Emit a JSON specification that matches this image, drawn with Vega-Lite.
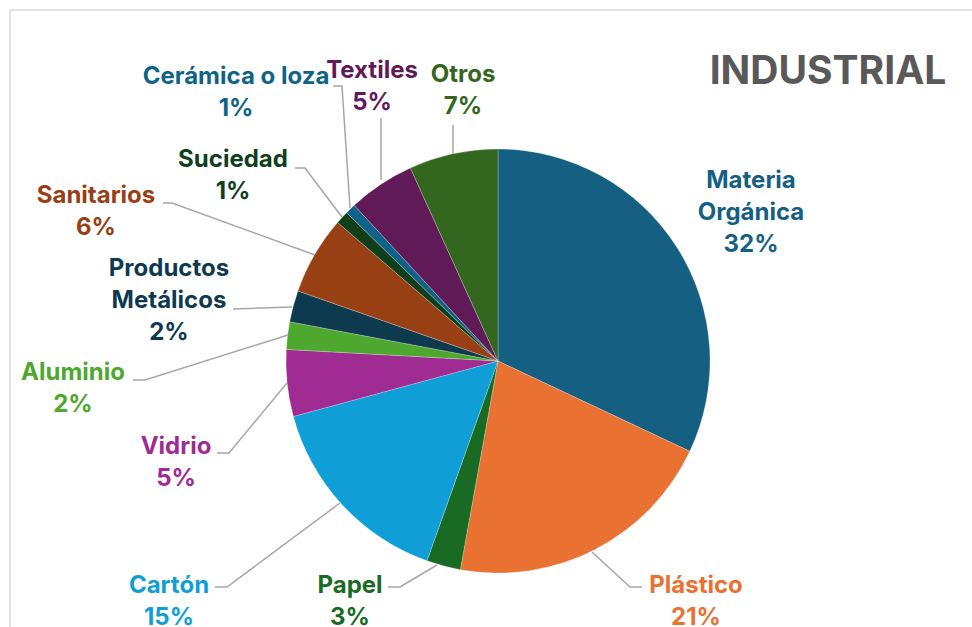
{
  "$schema": "https://vega.github.io/schema/vega-lite/v6.json",
  "width": 970,
  "height": 625,
  "autosize": {"type": "none"},
  "padding": {"left": 10, "top": 10, "right": 0, "bottom": 0},
  "background": "white",
  "config": {"view": {"stroke": "#d9d9d9", "strokeWidth": 1.5}},
  "datasets": {
    "slices": [
      {"idx": 1, "name": "Materia Orgánica", "lab": "Materia|Orgánica", "v": 32.1, "lx": 253, "ly": 180},
      {"idx": 2, "name": "Plástico", "lab": "Plástico", "v": 20.9, "lx": 198, "ly": -225},
      {"idx": 3, "name": "Papel", "lab": "Papel", "v": 2.6, "lx": -148, "ly": -225},
      {"idx": 4, "name": "Cartón", "lab": "Cartón", "v": 15.4, "lx": -329, "ly": -225},
      {"idx": 5, "name": "Vidrio", "lab": "Vidrio", "v": 5.1, "lx": -322, "ly": -86},
      {"idx": 6, "name": "Aluminio", "lab": "Aluminio", "v": 2.1, "lx": -425, "ly": -12},
      {"idx": 7, "name": "Productos Metálicos", "lab": "Productos|Metálicos", "v": 2.4, "lx": -329, "ly": 92},
      {"idx": 8, "name": "Sanitarios", "lab": "Sanitarios", "v": 6.0, "lx": -402, "ly": 165},
      {"idx": 9, "name": "Suciedad", "lab": "Suciedad", "v": 1.0, "lx": -265, "ly": 201},
      {"idx": 10, "name": "Cerámica o loza", "lab": "Cerámica o loza", "v": 0.8, "lx": -262, "ly": 284},
      {"idx": 11, "name": "Textiles", "lab": "Textiles", "v": 5.1, "lx": -126, "ly": 290},
      {"idx": 12, "name": "Otros", "lab": "Otros", "v": 6.8, "lx": -35, "ly": 286}
    ],
    "leaders": [
      {"name": "Plástico", "s": 1, "x": 94, "y": -191},
      {"name": "Plástico", "s": 2, "x": 132, "y": -226},
      {"name": "Plástico", "s": 3, "x": 144, "y": -226},
      {"name": "Papel", "s": 1, "x": -61, "y": -204},
      {"name": "Papel", "s": 2, "x": -98, "y": -226},
      {"name": "Papel", "s": 3, "x": -110, "y": -226},
      {"name": "Cartón", "s": 1, "x": -158, "y": -142},
      {"name": "Cartón", "s": 2, "x": -271, "y": -226},
      {"name": "Cartón", "s": 3, "x": -283, "y": -226},
      {"name": "Vidrio", "s": 1, "x": -211, "y": -22},
      {"name": "Vidrio", "s": 2, "x": -269, "y": -92},
      {"name": "Vidrio", "s": 3, "x": -281, "y": -92},
      {"name": "Aluminio", "s": 1, "x": -210, "y": 26},
      {"name": "Aluminio", "s": 2, "x": -353, "y": -19},
      {"name": "Aluminio", "s": 3, "x": -365, "y": -19},
      {"name": "Productos Metálicos", "s": 1, "x": -206, "y": 54},
      {"name": "Productos Metálicos", "s": 2, "x": -265, "y": 52},
      {"name": "Sanitarios", "s": 1, "x": -183, "y": 106},
      {"name": "Sanitarios", "s": 2, "x": -326, "y": 158},
      {"name": "Sanitarios", "s": 3, "x": -335, "y": 158},
      {"name": "Suciedad", "s": 1, "x": -156, "y": 144},
      {"name": "Suciedad", "s": 2, "x": -193, "y": 193},
      {"name": "Suciedad", "s": 3, "x": -203, "y": 193},
      {"name": "Cerámica o loza", "s": 1, "x": -148, "y": 153},
      {"name": "Cerámica o loza", "s": 2, "x": -156, "y": 275},
      {"name": "Cerámica o loza", "s": 3, "x": -165, "y": 275},
      {"name": "Textiles", "s": 1, "x": -117, "y": 181},
      {"name": "Textiles", "s": 2, "x": -117, "y": 243},
      {"name": "Otros", "s": 1, "x": -45, "y": 207},
      {"name": "Otros", "s": 2, "x": -45, "y": 236}
    ],
    "title": [{"t": "INDUSTRIAL", "x": 330, "y": 277}]
  },
  "layer": [
    {
      "data": {"name": "leaders"},
      "mark": {"type": "line", "color": "#a6a6a6", "strokeWidth": 1.5, "interpolate": "linear"},
      "encoding": {
        "x": {"field": "x", "type": "quantitative", "scale": {"domain": [-488, 482], "nice": false, "zero": false}, "axis": null},
        "y": {"field": "y", "type": "quantitative", "scale": {"domain": [-274, 351], "nice": false, "zero": false}, "axis": null},
        "detail": {"field": "name"},
        "order": {"field": "s"}
      }
    },
    {
      "data": {"name": "slices"},
      "mark": {"type": "arc", "outerRadius": 212, "stroke": "#ffffff", "strokeWidth": 0.4, "strokeOpacity": 0.6},
      "encoding": {
        "x": {"datum": 0, "type": "quantitative", "scale": {"domain": [-488, 482], "nice": false, "zero": false}, "axis": null},
        "y": {"datum": 0, "type": "quantitative", "scale": {"domain": [-274, 351], "nice": false, "zero": false}, "axis": null},
        "theta": {"field": "v", "type": "quantitative", "stack": true},
        "order": {"field": "idx", "type": "quantitative"},
        "color": {
          "field": "name", "type": "nominal", "legend": null,
          "scale": {
            "domain": ["Materia Orgánica", "Plástico", "Papel", "Cartón", "Vidrio", "Aluminio", "Productos Metálicos", "Sanitarios", "Suciedad", "Cerámica o loza", "Textiles", "Otros"],
            "range": ["#156082", "#E97132", "#196B24", "#0F9ED5", "#A02B93", "#4EA72E", "#0E3A4F", "#984014", "#10401B", "#0F6389", "#5F1A57", "#33661F"]
          }
        }
      }
    },
    {
      "data": {"name": "slices"},
      "transform": [
        {"calculate": "split(datum.lab + '|' + format(datum.v / 100, '.0%'), '|')", "as": "txt"}
      ],
      "mark": {"type": "text", "font": "Inter", "fontWeight": "bold", "fontSize": 24, "lineHeight": 32, "align": "center", "baseline": "middle"},
      "encoding": {
        "x": {"field": "lx", "type": "quantitative", "scale": {"domain": [-488, 482], "nice": false, "zero": false}, "axis": null},
        "y": {"field": "ly", "type": "quantitative", "scale": {"domain": [-274, 351], "nice": false, "zero": false}, "axis": null},
        "text": {"field": "txt"},
        "color": {"field": "name", "type": "nominal", "legend": null}
      }
    },
    {
      "data": {"name": "title"},
      "mark": {"type": "text", "font": "Inter", "fontWeight": "bold", "fontSize": 39, "align": "center", "baseline": "alphabetic", "color": "#595959"},
      "encoding": {
        "x": {"field": "x", "type": "quantitative", "scale": {"domain": [-488, 482], "nice": false, "zero": false}, "axis": null},
        "y": {"field": "y", "type": "quantitative", "scale": {"domain": [-274, 351], "nice": false, "zero": false}, "axis": null},
        "text": {"field": "t"}
      }
    }
  ]
}
